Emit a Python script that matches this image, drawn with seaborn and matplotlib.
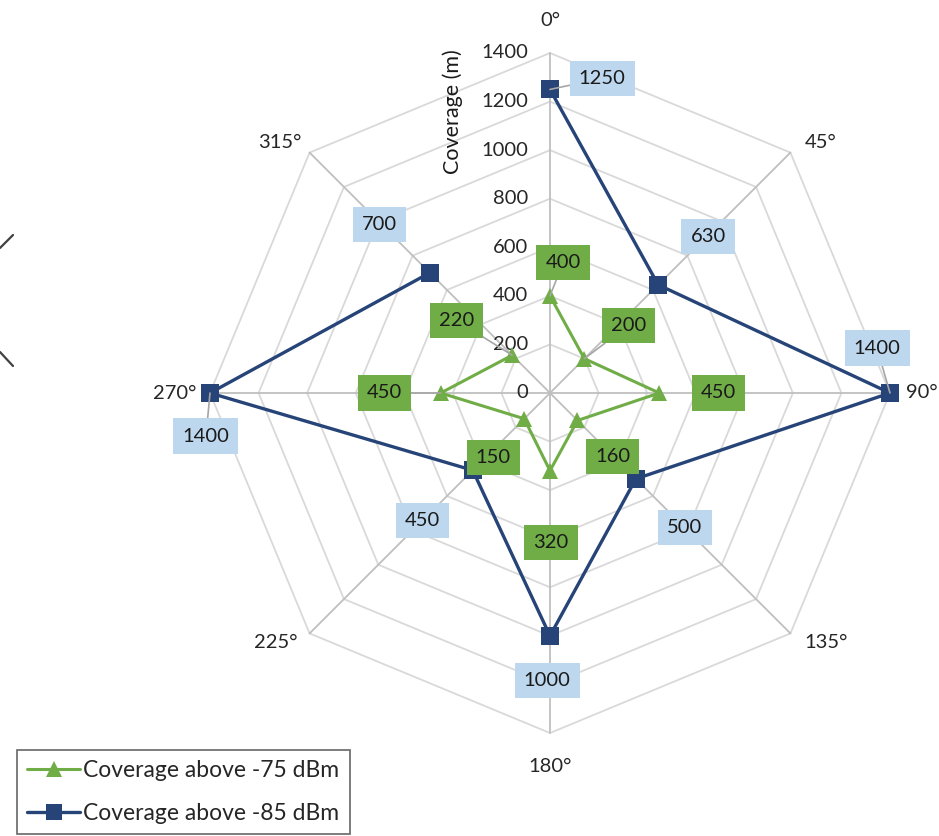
import numpy as np
import pandas as pd
import matplotlib
matplotlib.use("Agg")
import matplotlib.pyplot as plt
from matplotlib.lines import Line2D
import seaborn as sns

# ---- data ----
directions = [0, 45, 90, 135, 180, 225, 270, 315]          # degrees
direction_labels = ["0°", "45°", "90°", "135°", "180°", "225°", "270°", "315°"]
cov_75 = [400, 200, 450, 160, 320, 150, 450, 220]         # Coverage above -75 dBm (m)
cov_85 = [1250, 630, 1400, 500, 1000, 450, 1400, 700]     # Coverage above -85 dBm (m)
radial_ticks = [0, 200, 400, 600, 800, 1000, 1200, 1400]
series_names = ["Coverage above -75 dBm", "Coverage above -85 dBm"]

sns.set_theme(style="white")
plt.rcParams["font.family"] = ["Lato", "DejaVu Sans"]

GREEN = "#70AD47"
BLUE = "#264478"
LIGHT_BLUE = "#BDD7EE"
GRID = "#D9D9D9"
SPOKE = "#BFBFBF"
FS = 14.5

fig = plt.figure(figsize=(9.39, 8.36), dpi=100)
ax = fig.add_axes([210 / 939, 103 / 836, 680 / 939, 680 / 836], projection="polar")
ax.set_theta_zero_location("N")
ax.set_theta_direction(-1)
ax.grid(False)
ax.spines["polar"].set_visible(False)

theta = np.deg2rad(directions)
theta_closed = np.append(theta, theta[0])
rmax = radial_ticks[-1]

# octagonal grid rings and spokes
for r in radial_ticks[1:]:
    ax.plot(theta_closed, [r] * len(theta_closed), color=GRID, lw=1.3, zorder=1)
for t in theta:
    ax.plot([t, t], [0, rmax], color=SPOKE, lw=1.3, zorder=1)

# radial tick labels along the 0° spoke
for r in radial_ticks:
    ax.annotate(f"{r}", xy=(0, r), xytext=(-22, 0), textcoords="offset pixels",
                ha="right", va="center", fontsize=FS, color="#262626", zorder=3)

# direction labels just outside the outer ring (offsets in pixels)
dir_offsets = [(0, 33), (30, 10), (32, 0), (36, -9), (0, -33), (-34, -9), (-35, 0), (-30, 10)]
for t, lab, off in zip(theta, direction_labels, dir_offsets):
    ax.annotate(lab, xy=(t, rmax), xytext=off, textcoords="offset pixels",
                ha="center", va="center", fontsize=FS, color="#262626",
                annotation_clip=False)

# series drawn through seaborn
df = pd.concat([
    pd.DataFrame({"theta": theta_closed, "r": cov_75 + cov_75[:1], "series": series_names[0]}),
    pd.DataFrame({"theta": theta_closed, "r": cov_85 + cov_85[:1], "series": series_names[1]}),
])
sns.lineplot(data=df[df.series == series_names[0]], x="theta", y="r", sort=False, ax=ax,
             color=GREEN, lw=2.2, marker="^", markersize=12, markeredgewidth=0,
             zorder=4, legend=False)
sns.lineplot(data=df[df.series == series_names[1]], x="theta", y="r", sort=False, ax=ax,
             color=BLUE, lw=2.4, marker="s", markersize=13, markeredgewidth=0,
             zorder=5, legend=False)
for ln in ax.lines:
    ln.set_clip_on(False)
ax.set_xlabel("")
ax.set_ylabel("")
ax.set_ylim(0, rmax)
ax.set_xticks([])
ax.set_yticks([])

# data labels (offsets in pixels) and whether a leader line is shown
off_75 = [(13, 33), (44, 33), (59, 0), (35, -36), (1, -72), (-31, -39), (-56, 0), (-56, 35)]
lead_75 = [True, True, False, False, False, False, True, True]
off_85 = [(52, 11), (50, 48), (-13, 45), (49, -49), (-3, -45), (-50, -50), (-4, -43), (-50, 48)]
lead_85 = [True, False, True, False, False, False, True, False]


def label_points(values, offsets, leaders, face):
    for t, v, off, lead in zip(theta, values, offsets, leaders):
        arrow = dict(arrowstyle="-", color="#A6A6A6", lw=1.2, shrinkA=0, shrinkB=0) if lead else None
        ax.annotate(f"{v}", xy=(t, v), xytext=off, textcoords="offset pixels",
                    ha="center", va="center", fontsize=FS, color="#1a1a1a",
                    bbox=dict(boxstyle="square,pad=0.45", fc=face, ec="none"),
                    arrowprops=arrow, zorder=6, annotation_clip=False)


label_points(cov_75, off_75, lead_75, GREEN)
label_points(cov_85, off_85, lead_85, LIGHT_BLUE)

# axis title
fig.text(453 / 939, 1 - 112 / 836, "Coverage (m)", rotation=90, ha="center", va="center",
         fontsize=15.5, color="#1a1a1a")

# partial shape at the left edge
fig.add_artist(Line2D([0 / 939, 13 / 939], [1 - 248 / 836, 1 - 235 / 836],
                      color="#404040", lw=1.6))
fig.add_artist(Line2D([0 / 939, 13 / 939], [1 - 352 / 836, 1 - 366 / 836],
                      color="#404040", lw=1.6))

# legend
handles = [
    Line2D([], [], color=GREEN, lw=2.2, marker="^", markersize=12, markeredgewidth=0),
    Line2D([], [], color=BLUE, lw=2.4, marker="s", markersize=12, markeredgewidth=0),
]
leg = fig.legend(handles, series_names, loc="upper left",
                 bbox_to_anchor=(17 / 939, 1 - 750 / 836), fontsize=16.5,
                 frameon=True, fancybox=False, handlelength=2.3, handletextpad=0.15,
                 labelspacing=0.95, borderpad=0.45, borderaxespad=0)
leg.get_frame().set_edgecolor("#404040")
leg.get_frame().set_linewidth(1.2)

fig.savefig("out.png", dpi=100)
